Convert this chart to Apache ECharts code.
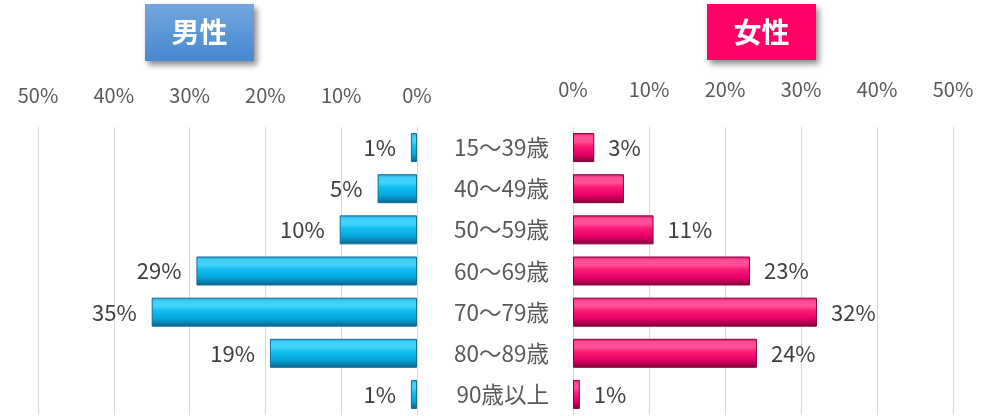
<!DOCTYPE html>
<html>
<head>
<meta charset="utf-8">
<script src="https://cdn.jsdelivr.net/npm/echarts@6/dist/echarts.min.js"></script>
<style>
html,body{margin:0;padding:0;background:#fff;}
#chart{width:1000px;height:416px;}
</style>
</head>
<body>
<div id="chart"></div>
<script>
const categories = ['15～39歳','40～49歳','50～59歳','60～69歳','70～79歳','80～89歳','90歳以上'];
const maleValues = [0.8, 5.2, 10.2, 29.1, 35.0, 19.4, 0.8];
const femaleValues = [2.8, 6.7, 10.6, 23.3, 32.1, 24.2, 0.9];
const femaleLabelShown = [true, false, true, true, true, true, true];
const maleLabelShown = [true, true, true, true, true, true, true];
const axisMin = 0, axisMax = 50, axisStep = 10;
const maleTitle = '男性';
const femaleTitle = '女性';

const FONT = '"Noto Sans CJK JP", "Noto Sans", sans-serif';
const chart = echarts.init(document.getElementById('chart'));

const blueGrad = new echarts.graphic.LinearGradient(0, 0, 0, 1, [
  {offset: 0, color: '#2a9fcf'},
  {offset: 0.12, color: '#3fd0fa'},
  {offset: 0.3, color: '#40d4fb'},
  {offset: 0.45, color: '#12bcef'},
  {offset: 0.72, color: '#05a7dc'},
  {offset: 0.88, color: '#0a7fae'},
  {offset: 1, color: '#0b5f85'}
]);
const pinkGrad = new echarts.graphic.LinearGradient(0, 0, 0, 1, [
  {offset: 0, color: '#e0106a'},
  {offset: 0.12, color: '#ff4d97'},
  {offset: 0.3, color: '#ff4f98'},
  {offset: 0.45, color: '#fb1a74'},
  {offset: 0.72, color: '#e8006a'},
  {offset: 0.88, color: '#b0004e'},
  {offset: 1, color: '#7a0036'}
]);

const labelFmt = p => Math.round(p.value) + '%';
const maleData = maleValues.map((v, i) => ({value: v, label: {show: maleLabelShown[i]}}));
const femaleData = femaleValues.map((v, i) => ({value: v, label: {show: femaleLabelShown[i]}}));

const valueAxisBase = {
  type: 'value', min: axisMin, max: axisMax, interval: axisStep, position: 'top',
  axisLine: {show: false}, axisTick: {show: false},
  splitLine: {show: true, lineStyle: {color: '#d9d9d9', width: 1}},
  axisLabel: {formatter: '{value}%', color: '#595959', fontSize: 20, fontFamily: FONT}
};

function titleBox(x, y, w, h, fill, text) {
  return {
    type: 'group', left: x, top: y,
    children: [
      {type: 'rect', shape: {x: 0, y: 0, width: w, height: h},
       style: {fill: fill, shadowBlur: 6, shadowOffsetX: 3, shadowOffsetY: 4, shadowColor: 'rgba(0,0,0,0.45)'}},
      {type: 'text', x: w / 2, y: h / 2,
       style: {text: text, fill: '#ffffff', font: 'bold 28px ' + FONT, align: 'center', verticalAlign: 'middle'}}
    ]
  };
}

chart.setOption({
  animation: false,
  backgroundColor: '#ffffff',
  grid: [
    {left: 38, width: 379, top: 127, height: 288},
    {left: 573, width: 380, top: 127, height: 288}
  ],
  xAxis: [
    Object.assign({}, valueAxisBase, {gridIndex: 0, inverse: true,
      axisLabel: Object.assign({}, valueAxisBase.axisLabel, {margin: 22})}),
    Object.assign({}, valueAxisBase, {gridIndex: 1,
      axisLabel: Object.assign({}, valueAxisBase.axisLabel, {margin: 28})})
  ],
  yAxis: [
    {type: 'category', gridIndex: 0, data: categories, inverse: true,
     axisLine: {show: false}, axisTick: {show: false}, axisLabel: {show: false}},
    {type: 'category', gridIndex: 1, data: categories, inverse: true,
     axisLine: {show: false}, axisTick: {show: false},
     axisLabel: {show: true, color: '#595959', fontSize: 22.5, fontFamily: FONT, margin: 24, align: 'right'}}
  ],
  series: [
    {type: 'bar', xAxisIndex: 0, yAxisIndex: 0, data: maleData, barWidth: 29,
     itemStyle: {color: blueGrad, borderColor: '#0e6f99', borderWidth: 1},
     label: {show: true, position: 'left', distance: 15, formatter: labelFmt,
             color: '#404040', fontSize: 22, fontFamily: FONT}},
    {type: 'bar', xAxisIndex: 1, yAxisIndex: 1, data: femaleData, barWidth: 29,
     itemStyle: {color: pinkGrad, borderColor: '#8a003c', borderWidth: 1},
     label: {show: true, position: 'right', distance: 14, formatter: labelFmt,
             color: '#404040', fontSize: 22, fontFamily: FONT}}
  ],
  graphic: [
    titleBox(145, 4, 109, 57, new echarts.graphic.LinearGradient(0, 0, 0, 1, [
      {offset: 0, color: '#72a6de'}, {offset: 1, color: '#4788d0'}]), maleTitle),
    titleBox(707, 4, 109, 56, '#ff0066', femaleTitle)
  ]
});
</script>
</body>
</html>
